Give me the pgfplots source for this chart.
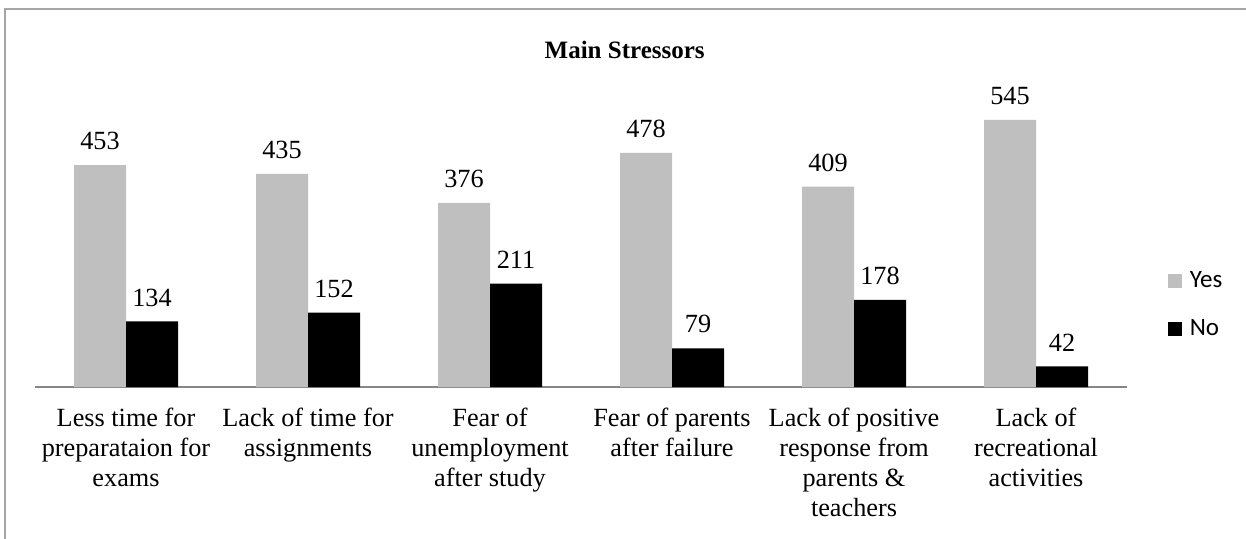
\documentclass[border=0pt]{standalone}
\usepackage{fontspec}
\setmainfont{Liberation Serif}
\newfontfamily\carlito{Carlito}
\usepackage{pgfplots}
\pgfplotsset{compat=1.18}
\definecolor{yesgray}{HTML}{BFBFBF}
\definecolor{axgray}{HTML}{868686}
\definecolor{framegray}{HTML}{A6A6A6}
\begin{document}
\begin{tikzpicture}
\path[use as bounding box] (0,0) rectangle (498.4pt,215.2pt);
\draw[framegray, line width=0.6pt] (2pt,-2pt) -- (2pt,211.6pt) -- (502pt,211.6pt);
\begin{axis}[
  at={(14pt,60.4pt)}, anchor=south west,
  scale only axis, width=436.8pt, height=117.6pt,
  ybar=0pt, bar width=20.8pt,
  legend image code/.code={\fill[#1] (0pt,-2.9pt) rectangle (5.8pt,2.9pt);},
  xmin=-0.5, xmax=5.5, ymin=0, ymax=600,
  axis x line*=bottom, axis y line=none,
  x axis line style={axgray, line width=0.5pt},
  xtick={0,1,2,3,4,5}, ytick=\empty,
  major tick length=0pt,
  xticklabels={{Less time for\\preparataion for\\exams},
               {Lack of time for\\assignments},
               {Fear of\\unemployment\\after study},
               {Fear of parents\\after failure},
               {Lack of positive\\response from\\parents \&\\teachers},
               {Lack of\\recreational\\activities}},
  xticklabel style={font=\rmfamily\fontsize{10.5}{12}\selectfont, align=center, text=black},
  xticklabel shift=5pt,
  point meta=explicit symbolic,
  nodes near coords,
  nodes near coords style={font=\rmfamily\fontsize{10.5}{12}\selectfont, text=black, yshift=2.5pt},
  title={Main Stressors},
  title style={at={(0.54,1.146)}, anchor=center, yshift=-6pt, font=\rmfamily\bfseries\fontsize{10}{12}\selectfont},
  legend style={at={(1.030,0.279)}, anchor=west, draw=none, fill=none,
    font=\carlito\fontsize{10}{12}\selectfont, row sep=7.2pt, legend cell align=left,
    nodes={inner xsep=3pt}},
]
\addplot[fill=yesgray, draw=none]
  coordinates {(0,453) [453] (1,435) [435] (2,376) [376] (3,478) [478] (4,409) [409] (5,545) [545]};
\addplot[fill=black, draw=none]
  coordinates {(0,134) [134] (1,152) [152] (2,211) [211] (3,79) [79] (4,178) [178] (5,42) [42]};
\legend{Yes, No}
\end{axis}
\end{tikzpicture}
\end{document}
